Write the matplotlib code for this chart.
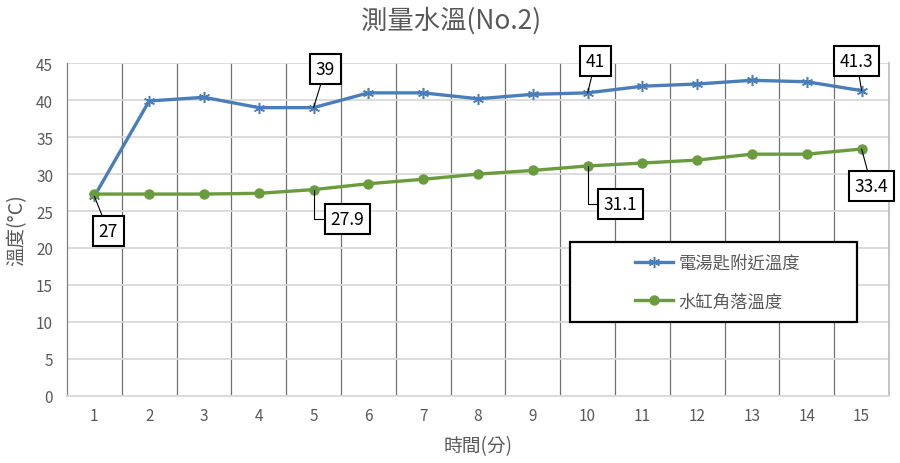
import matplotlib
matplotlib.use("Agg")
import matplotlib.pyplot as plt
from matplotlib.patches import Rectangle

plt.rcParams['font.family'] = ['Noto Sans CJK TC', 'DejaVu Sans']

minutes = list(range(1, 16))
kettle_temp = [27.0, 39.9, 40.4, 39.0, 39.0, 41.0, 41.0, 40.2, 40.8, 41.0, 41.9, 42.2, 42.7, 42.5, 41.3]
tank_temp = [27.3, 27.3, 27.3, 27.4, 27.9, 28.7, 29.3, 30.0, 30.5, 31.1, 31.5, 31.9, 32.7, 32.7, 33.4]
series_names = ['電湯匙附近溫度', '水缸角落溫度']
title = '測量水溫(No.2)'
xlabel = '時間(分)'
ylabel = '溫度(°C)'
yticks = [0, 5, 10, 15, 20, 25, 30, 35, 40, 45]

# labelled points: (series index, x index, text, offset px, elbow)
labels = [
    (0, 0, '27', (14, -35), False),
    (0, 4, '39', (12, 39), False),
    (1, 4, '27.9', (34, -29), True),
    (0, 9, '41', (8, 32), False),
    (1, 9, '31.1', (33, -38), True),
    (0, 14, '41.3', (-5, 30), False),
    (1, 14, '33.4', (10, -37), False),
]

blue = '#4a7ebb'
green = '#6a9c3e'
grey_text = '#595959'

fig = plt.figure(figsize=(9, 4.64), dpi=100)
ax = fig.add_axes([0.0744, 0.145, 0.9134, 0.7164])

ax.set_xlim(0.5, 15.5)
ax.set_ylim(0, 45)
ax.set_yticks(yticks)
ax.set_xticks(minutes)
ax.set_xticks([m + 0.5 for m in minutes[:-1]], minor=True)
ax.tick_params(axis='both', which='both', length=0, labelsize=11, colors=grey_text, pad=8)
ax.tick_params(axis='y', pad=10)
ax.grid(axis='y', which='major', color='#d9d9d9', lw=1.3, zorder=0)
ax.grid(axis='x', which='minor', color='#707070', lw=0.9, zorder=0)
ax.grid(axis='x', which='major', visible=False)
ax.set_axisbelow(True)
ax.spines['top'].set_visible(False)
ax.spines['left'].set_color('#808080')
ax.spines['left'].set_linewidth(0.9)
ax.spines['right'].set_color('#bfbfbf')
ax.spines['right'].set_linewidth(1.3)
ax.spines['bottom'].set_color('#d9d9d9')
ax.spines['bottom'].set_linewidth(1.3)

l1, = ax.plot(minutes, kettle_temp, color=blue, lw=2.4, marker=(6, 2, 0),
              markersize=8, markeredgewidth=1.1, markeredgecolor=blue, label=series_names[0], zorder=3)
l2, = ax.plot(minutes, tank_temp, color=green, lw=2.4, marker='o',
              markersize=6.5, markeredgecolor=green, markerfacecolor=green, label=series_names[1], zorder=3)

data = [kettle_temp, tank_temp]
for si, xi, txt, (dx, dy), elbow in labels:
    ap = dict(arrowstyle='-', color='black', lw=0.8, shrinkA=0, shrinkB=0)
    if elbow:
        ap['connectionstyle'] = 'angle,angleA=0,angleB=90,rad=0'
    ax.annotate(txt, xy=(minutes[xi], data[si][xi]), xytext=(dx, dy),
                textcoords='offset pixels', ha='center', va='center',
                fontsize=12.5, color='black', annotation_clip=False,
                bbox=dict(boxstyle='square,pad=0.34', fc='white', ec='black', lw=1.5),
                arrowprops=ap, zorder=5)

# legend frame and legend
ax.add_patch(Rectangle((0.612, 0.222), 0.349, 0.240, transform=ax.transAxes,
                       fill=True, fc='white', ec='black', lw=1.6, zorder=4))
leg = ax.legend(handles=[l1, l2], loc='center left', bbox_to_anchor=(0.672, 0.342),
                frameon=False, fontsize=12.5, labelcolor=grey_text,
                handlelength=2.2, handletextpad=0.3, labelspacing=1.2)
leg.set_zorder(6)

fig.text(0.501, 0.955, title, ha='center', va='center', fontsize=19, color=grey_text)
ax.set_xlabel(xlabel, fontsize=13.5, color=grey_text, labelpad=8)
ax.set_ylabel(ylabel, fontsize=14, color=grey_text, labelpad=6)

fig.savefig('out.png', dpi=100)
